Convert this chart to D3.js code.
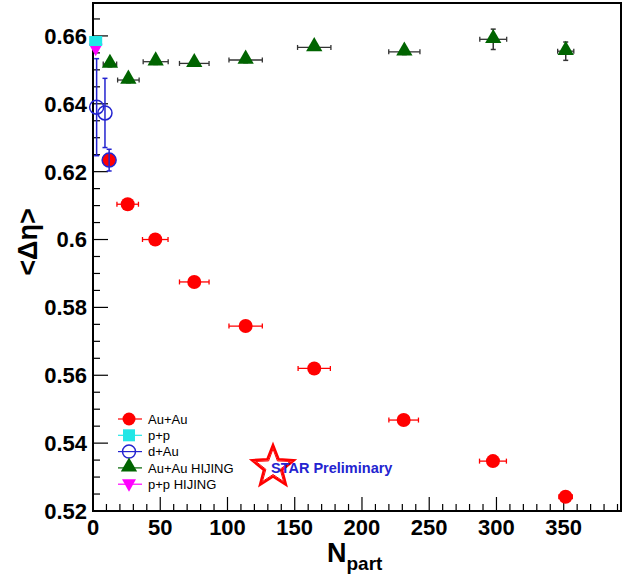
<!DOCTYPE html>
<html>
<head>
<meta charset="utf-8">
<script src="https://cdn.jsdelivr.net/npm/d3@7"></script>
<style>
  body { margin: 0; background: #fff; }
  svg { display: block; font-family: "Liberation Sans", Arial, Helvetica, sans-serif; }
</style>
</head>
<body>
<div id="chart"></div>
<script>
// values
var auau_npart = [11.9, 25.8, 46.3, 75.3, 113.5, 164.5, 231, 297.4, 351.4];
var auau_eta   = [0.6234, 0.6104, 0.6000, 0.5875, 0.5745, 0.5620, 0.5468, 0.5347, 0.5242];
var auau_xerr  = [4, 8, 9.5, 11, 12.4, 12, 11, 10, 5];

var hij_npart = [12.6, 26.3, 46.6, 75.3, 113.5, 164.5, 231.5, 297.6, 351.5];
var hij_eta   = [0.6517, 0.6470, 0.6524, 0.6519, 0.6529, 0.6566, 0.6553, 0.6590, 0.6555];
var hij_xerr  = [5, 8, 9.3, 11, 12.4, 12.4, 11.6, 10, 6];
var hij_yerr  = [0.0008, 0.0008, 0.0008, 0.0008, 0.0008, 0.0008, 0.0008, 0.003, 0.0027];

var pp_npart = [2], pp_eta = [0.6585];
var pphij_npart = [2], pphij_eta = [0.6562];

var dau_npart = [2.7, 8.9, 12];
var dau_eta   = [0.6390, 0.6373, 0.6234];
var dau_yerr  = [0.0143, 0.0102, 0.0032];

var xTicks = [0, 50, 100, 150, 200, 250, 300, 350];
var yTicks = [0.52, 0.54, 0.56, 0.58, 0.60, 0.62, 0.64, 0.66];

var legendNames = ["Au+Au", "p+p", "d+Au", "Au+Au HIJING", "p+p HIJING"];

var margin = {top: 3, right: 19, bottom: 70, left: 93},
    width = 640 - margin.left - margin.right,
    height = 581 - margin.top - margin.bottom;

var svg = d3.select("#chart")
  .append("svg")
    .attr("width", 640)
    .attr("height", 581)
  .append("g")
    .attr("transform", "translate(" + margin.left + "," + margin.top + ")");

var x = d3.scaleLinear().domain([0, 392.6]).range([0, width]);
var y = d3.scaleLinear().domain([0.52, 0.6697]).range([height, 0]);

var red = "#ff0000", green = "#006400", cyan = "#22e6e6", magenta = "#ff00ff", blue = "#2424d0";

// frame
svg.append("rect")
  .attr("x", 0).attr("y", 0)
  .attr("width", width).attr("height", height)
  .attr("fill", "none")
  .attr("stroke", "black")
  .attr("stroke-width", 2);

// minor ticks (inward)
var xMinor = d3.range(0, 391, 10);
svg.selectAll(".xminor").data(xMinor).enter().append("line")
  .attr("x1", d => x(d)).attr("x2", d => x(d))
  .attr("y1", height).attr("y2", d => height - (d % 50 === 0 ? 14 : 7))
  .attr("stroke", "black").attr("stroke-width", 1.2);

var yMinor = d3.range(0.52, 0.6697, 0.005);
svg.selectAll(".yminor").data(yMinor).enter().append("line")
  .attr("x1", 0).attr("x2", (d, i) => (i % 4 === 0 ? 15 : 7))
  .attr("y1", d => y(d)).attr("y2", d => y(d))
  .attr("stroke", "black").attr("stroke-width", 1.2);

// tick labels
svg.selectAll(".xlab").data(xTicks).enter().append("text")
  .attr("x", d => x(d))
  .attr("y", height + 24)
  .attr("text-anchor", "middle")
  .style("font-size", "22px")
  .style("font-weight", "bold")
  .text(d => d);

svg.selectAll(".ylab").data(yTicks).enter().append("text")
  .attr("x", -6)
  .attr("y", d => y(d))
  .attr("dy", "0.36em")
  .attr("text-anchor", "end")
  .style("font-size", "22px")
  .style("font-weight", "bold")
  .text(d => d3.format("")(+d.toFixed(2)));

// axis titles
svg.append("text")
  .attr("transform", "rotate(-90)")
  .attr("x", -(242 - margin.top))
  .attr("y", 37 - margin.left)
  .attr("text-anchor", "middle")
  .style("font-size", "27px")
  .style("font-weight", "bold")
  .text("<\u0394\u03b7>");

var xt = svg.append("text")
  .attr("x", 327 - margin.left)
  .attr("y", 562 - margin.top)
  .style("font-weight", "bold");
xt.append("tspan").style("font-size", "27px").text("N");
xt.append("tspan").attr("dy", 8).style("font-size", "19px").text("part");

// helpers
function xErr(g, xs, ys, errs, color) {
  xs.forEach(function(d, i) {
    var xa = x(d - errs[i]), xb = x(d + errs[i]), yy = y(ys[i]);
    g.append("line").attr("x1", xa).attr("x2", xb).attr("y1", yy).attr("y2", yy)
      .attr("stroke", color).attr("stroke-width", 1.3);
    [xa, xb].forEach(function(c) {
      g.append("line").attr("x1", c).attr("x2", c).attr("y1", yy - 2.5).attr("y2", yy + 2.5)
        .attr("stroke", color).attr("stroke-width", 1.3);
    });
  });
}
function yErr(g, xs, ys, errs, color) {
  xs.forEach(function(d, i) {
    var xx = x(d), ya = y(ys[i] + errs[i]), yb = y(ys[i] - errs[i]);
    g.append("line").attr("x1", xx).attr("x2", xx).attr("y1", ya).attr("y2", yb)
      .attr("stroke", color).attr("stroke-width", 1.5);
    [ya, yb].forEach(function(c) {
      g.append("line").attr("x1", xx - 2.5).attr("x2", xx + 2.5).attr("y1", c).attr("y2", c)
        .attr("stroke", color).attr("stroke-width", 1.5);
    });
  });
}

var triUp = d3.symbol().type(d3.symbolTriangle).size(115);
var triDown = "M-7,-5L7,-5L0,7.5Z";

// Au+Au HIJING
var gH = svg.append("g");
xErr(gH, hij_npart, hij_eta, hij_xerr, "#333");
yErr(gH, hij_npart, hij_eta, hij_yerr, "#333");
gH.selectAll("path").data(hij_npart).enter().append("path")
  .attr("d", triUp)
  .attr("transform", (d, i) => "translate(" + x(d) + "," + (y(hij_eta[i]) - 1) + ")")
  .attr("fill", green);

// p+p HIJING
svg.selectAll(".pphij").data(pphij_npart).enter().append("path")
  .attr("d", triDown)
  .attr("transform", (d, i) => "translate(" + x(d) + "," + y(pphij_eta[i]) + ")")
  .attr("fill", magenta);

// p+p
svg.selectAll(".pp").data(pp_npart).enter().append("rect")
  .attr("x", d => x(d) - 6.5)
  .attr("y", (d, i) => y(pp_eta[i]) - 5)
  .attr("width", 13).attr("height", 10)
  .attr("fill", cyan);

// Au+Au
var gA = svg.append("g");
xErr(gA, auau_npart, auau_eta, auau_xerr, red);
gA.selectAll("circle").data(auau_npart).enter().append("circle")
  .attr("cx", d => x(d))
  .attr("cy", (d, i) => y(auau_eta[i]))
  .attr("r", 7)
  .attr("fill", red);

// d+Au
var gD = svg.append("g");
yErr(gD, dau_npart, dau_eta, dau_yerr, blue);
gD.selectAll("circle").data(dau_npart).enter().append("circle")
  .attr("cx", d => x(d))
  .attr("cy", (d, i) => y(dau_eta[i]))
  .attr("r", 7)
  .attr("fill", "none")
  .attr("stroke", blue)
  .attr("stroke-width", 1.5);

// legend
var legend = svg.append("g")
  .attr("transform", "translate(" + (129 - margin.left) + "," + (419 - margin.top) + ")");

legendNames.forEach(function(name, i) {
  var row = legend.append("g").attr("transform", "translate(0," + (i * 16.3) + ")");
  var col = [red, cyan, blue, green, magenta][i];
  row.append("line").attr("x1", -11).attr("x2", 13).attr("y1", 0).attr("y2", 0)
    .attr("stroke", col).attr("stroke-width", 1.2);
  if (i === 0) row.append("circle").attr("r", 6.5).attr("fill", red);
  if (i === 1) row.append("rect").attr("x", -6).attr("y", -6).attr("width", 12).attr("height", 12).attr("fill", cyan);
  if (i === 2) row.append("circle").attr("r", 6.5).attr("fill", "none").attr("stroke", blue).attr("stroke-width", 1.5);
  if (i === 3) row.append("path").attr("d", triUp).attr("transform", "translate(0,-1)").attr("fill", green);
  if (i === 4) row.append("path").attr("d", triDown).attr("fill", magenta);
  row.append("text")
    .attr("x", 19)
    .attr("y", 0)
    .attr("dy", "0.36em")
    .style("font-size", "13px")
    .text(name);
});

// STAR Preliminary
var star = svg.append("g").attr("transform", "translate(" + (273 - margin.left) + "," + (467 - margin.top) + ")");
function starPath(ro, ri) {
  var pts = d3.range(10).map(function(k) {
    var a = -Math.PI / 2 + k * Math.PI / 5, r = k % 2 ? ri : ro;
    return [r * Math.cos(a), r * Math.sin(a)];
  });
  return "M" + pts.join("L") + "Z";
}
star.append("path").attr("d", starPath(22, 9.5)).attr("fill", "none").attr("stroke", red).attr("stroke-width", 2.5);
star.append("path").attr("d", starPath(18, 7.5)).attr("fill", "none").attr("stroke", red).attr("stroke-width", 1);
svg.append("text")
  .attr("x", 271 - margin.left)
  .attr("y", 473 - margin.top)
  .style("font-size", "14.5px")
  .style("font-weight", "bold")
  .attr("fill", blue)
  .text("STAR Preliminary");
</script>
</body>
</html>
